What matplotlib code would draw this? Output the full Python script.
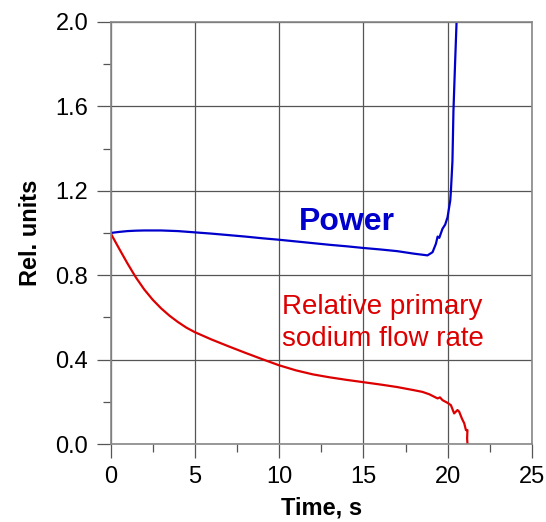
import matplotlib
matplotlib.use("Agg")
from matplotlib import pyplot as plt
from matplotlib.ticker import MultipleLocator

plt.rcParams['font.family'] = ['Liberation Sans', 'DejaVu Sans']

# power, relative units
power_t = [0, 0.5, 1, 1.5, 2, 3, 4, 5, 6, 7, 8, 9, 10, 11, 12, 13, 14, 15, 16, 17,
           18.0, 18.5, 18.8, 19.1, 19.3, 19.4, 19.5, 19.69, 19.85, 19.99, 20.15,
           20.19, 20.28, 20.34, 20.43, 20.52]
power = [1.0, 1.005, 1.009, 1.011, 1.012, 1.012, 1.009, 1.003, 0.997, 0.99, 0.983,
         0.975, 0.968, 0.960, 0.952, 0.944, 0.937, 0.929, 0.922, 0.914,
         0.902, 0.897, 0.894, 0.909, 0.949, 0.983, 0.977, 1.02, 1.04, 1.075, 1.154,
         1.20, 1.34, 1.58, 1.79, 1.99]

# relative primary sodium flow rate
flow_t = [0, 0.5, 1, 1.5, 2, 2.5, 3, 3.5, 4, 4.5, 5, 6, 7, 8, 9, 10, 11, 12, 13,
          14, 15, 16, 17, 18, 18.5, 18.9, 19.4, 19.54, 19.69, 19.99, 20.19, 20.38,
          20.58, 20.68, 20.84, 20.98, 21.08, 21.17, 21.15, 21.17]
flow = [1.0, 0.9275, 0.8565, 0.79, 0.7325, 0.684, 0.643, 0.608, 0.578, 0.5515, 0.53,
        0.495, 0.463, 0.432, 0.402, 0.373, 0.349, 0.33, 0.316, 0.304, 0.293, 0.282,
        0.27, 0.255, 0.247, 0.236, 0.216, 0.221, 0.208, 0.195, 0.184, 0.145, 0.161,
        0.153, 0.121, 0.098, 0.066, 0.066, 0.027, 0.003]

fig = plt.figure(figsize=(5.46, 5.22), dpi=100)
ax = fig.add_axes([0.2024, 0.1494, 0.7720, 0.8085])

ax.plot(power_t, power, color='#0000cc', lw=1.6)
ax.plot(flow_t, flow, color='#dd0000', lw=1.6)

ax.set_xlim(0, 25)
ax.set_ylim(0, 2.0)
ax.xaxis.set_major_locator(MultipleLocator(5))
ax.xaxis.set_minor_locator(MultipleLocator(2.5))
ax.yaxis.set_minor_locator(MultipleLocator(0.2))
ax.set_yticks([0.0, 0.4, 0.8, 1.2, 1.6, 2.0])
ax.set_yticklabels(['0.0', '0.4', '0.8', '1.2', '1.6', '2.0'])

ax.grid(True, which='major', color='#555555', lw=0.9)
ax.tick_params(which='major', direction='out', length=10, width=0.9, color='#555555',
               labelsize=17, pad=6)
ax.tick_params(which='minor', direction='out', length=6, width=0.9, color='#555555')
for s in ax.spines.values():
    s.set_color('#888888')
    s.set_linewidth(1.2)

ax.set_xlabel('Time, s', fontsize=17, fontweight='bold', labelpad=6)
ax.set_ylabel('Rel. units', fontsize=17, fontweight='bold', labelpad=10)

ax.text(14.0, 1.05, 'Power', color='#0000cc', fontsize=23, fontweight='bold',
        ha='center', va='center')
ax.text(10.2, 0.572, 'Relative primary\nsodium flow rate', color='#dd0000', fontsize=20,
        ha='left', va='center', linespacing=1.3)

fig.savefig('out.png', dpi=100)
